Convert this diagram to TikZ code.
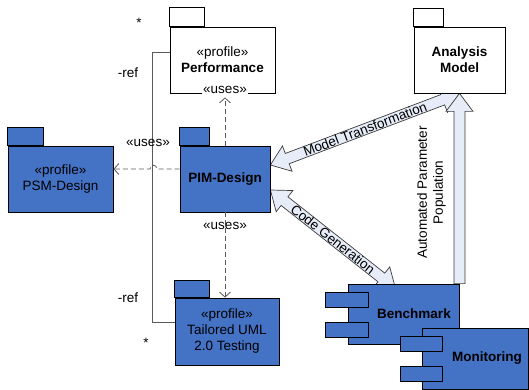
\documentclass[tikz,border=0pt]{standalone}
\usepackage{fontspec}
\setmainfont{Liberation Sans}
\usetikzlibrary{calc,arrows.meta,backgrounds}
\definecolor{pkgblue}{RGB}{68,114,196}
\definecolor{arrfill}{RGB}{231,237,248}
\definecolor{arrline}{RGB}{60,60,60}
\definecolor{lngray}{RGB}{90,90,90}

\newcommand{\blockarrow}[2]{%
  \coordinate (hb) at ($(#2)!18pt!(#1)$);
  \draw[blockarr] ($(#1)!5.5pt!90:(#2)$) -- ($(hb)!5.5pt!-90:(#1)$) -- ($(hb)!13.5pt!-90:(#1)$) -- (#2)
    -- ($(hb)!13.5pt!90:(#1)$) -- ($(hb)!5.5pt!90:(#1)$) -- ($(#1)!5.5pt!-90:(#2)$) -- cycle;}
\newcommand{\blockdarrow}[2]{%
  \coordinate (ha) at ($(#1)!18pt!(#2)$);
  \coordinate (hb) at ($(#2)!18pt!(#1)$);
  \draw[blockarr] (#1) -- ($(ha)!13.5pt!90:(#2)$) -- ($(ha)!5.5pt!90:(#2)$) -- ($(hb)!5.5pt!-90:(#1)$)
    -- ($(hb)!13.5pt!-90:(#1)$) -- (#2) -- ($(hb)!13.5pt!90:(#1)$) -- ($(hb)!5.5pt!90:(#1)$)
    -- ($(ha)!5.5pt!-90:(#2)$) -- ($(ha)!13.5pt!-90:(#2)$) -- cycle;}

\begin{document}
\begin{tikzpicture}[x=1pt, y=-1pt,
    font=\fontsize{13.5}{16}\selectfont,
    pkg/.style={draw, line width=0.8pt, fill=pkgblue, align=center, inner sep=0pt},
    tab/.style={draw, line width=0.8pt, fill=pkgblue},
    comp/.style={draw, line width=0.8pt, fill=pkgblue, inner sep=0pt},
    uses/.style={draw=lngray, line width=0.8pt, dash pattern=on 5pt off 3pt, -{Straight Barb[length=5pt,width=11pt]}},
    ref/.style={draw=lngray, line width=0.8pt},
    blockarr/.style={draw=arrline, fill=arrfill, line width=0.7pt, line join=miter}]

    \useasboundingbox (0,0) rectangle (529,390);

    \node[pkg, fill=white, minimum width=105pt, minimum height=66pt] (perf) at (222.5,60) {«profile»\\\textbf{Performance}};
    \draw[tab, fill=white] (perf.north west) rectangle ++(35,-19);
    \node[pkg, fill=white, minimum width=91pt, minimum height=66pt] (anal) at (459.5,60) {\textbf{Analysis}\\\textbf{Model}};
    \draw[tab, fill=white] (anal.north west) rectangle ++(30,-18);
    \node[pkg, minimum width=105pt, minimum height=66pt] (psm) at (60.5,179) {«profile»\\PSM-Design};
    \draw[tab] (psm.north west) rectangle ++(36,-18);
    \node[pkg, minimum width=90pt, minimum height=66pt] (pim) at (225,179) {\textbf{PIM-Design}};
    \draw[tab] (pim.north west) rectangle ++(30,-18);
    \node[pkg, minimum width=104pt, minimum height=67pt] (tail) at (227,331.5) {«profile»\\Tailored UML\\2.0 Testing};
    \draw[tab] (tail.north west) rectangle ++(35,-17);

    \draw[ref] ([yshift=8pt]perf.west) -- ++(-17,0) |- ([yshift=9pt]tail.west);
    \node (r1) at (128,73) {-ref};
    \node (r2) at (128,298) {-ref};
    \node (s1) at (139,23) {*};
    \node (s2) at (146,343) {*};

    \draw[uses, shorten >=4pt] (pim.north) -- (pim.north |- perf.south);
    \node[fill=white, inner sep=1pt, anchor=base] (u1) at (pim.north |- perf.south) {«uses»};
    \draw[uses] (pim.south) -- (pim.south |- tail.north);
    \node (u2) at ([yshift=-14pt]pim.south) {«uses»};
    \draw[uses] ([yshift=10pt]pim.west) -- (157,169) .. controls (157,164) and (150,164) .. (150,169) -- ([yshift=10pt]psm.east);
    \node (u3) at (148,143) {«uses»};

    \node[comp, minimum width=111pt, minimum height=60pt] (bench) at (403.5,314) {\hspace*{21pt}\textbf{Benchmark}};
    \foreach \dy in {-22,8}
      \draw[comp] ($(bench.west)+(-22,\dy)$) rectangle ++(43,15);
    \node[comp, minimum width=106pt, minimum height=61pt] (moni) at (475,358.5) {\hspace*{24pt}\textbf{Monitoring}};
    \foreach \dy in {-22.5,7.5}
      \draw[comp] ($(moni.west)+(-21,\dy)$) rectangle ++(42,15);

    \begin{pgfonlayer}{background}
      \coordinate (mt1) at ([yshift=14pt]pim.east);
      \blockdarrow{mt1}{anal.south}
      \coordinate (cg1) at ([yshift=-11pt]pim.east);
      \coordinate (cg2) at ([xshift=-8pt,yshift=-5pt]bench.north);
      \blockdarrow{cg1}{cg2}
      \coordinate (ap1) at (anal.south |- bench.north);
      \blockarrow{ap1}{anal.south}
    \end{pgfonlayer}

    \path (mt1) -- node[sloped] (mtl) {Model Transformation} (anal.south);
    \path (cg1) -- node[sloped] (cgl) {Code Generation} (cg2);
    \node[rotate=90, align=center] (apl) at (431.5,192.5) {Automated Parameter\\Population};

  \end{tikzpicture}
\end{document}
